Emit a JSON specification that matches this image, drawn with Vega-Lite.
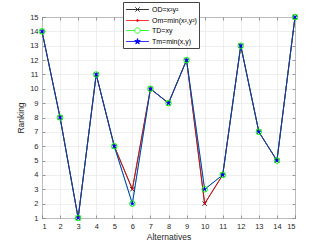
{
  "$schema": "https://vega.github.io/schema/vega-lite/v6.json",
  "width": 253,
  "height": 201,
  "autosize": {"type": "none"},
  "padding": {"left": 42, "top": 17, "right": 32, "bottom": 27},
  "config": {
    "font": "Liberation Sans",
    "view": {"stroke": "#808080", "strokeWidth": 1},
    "axis": {
      "labelFontSize": 7.5,
      "titleFontSize": 8.5,
      "titleFontWeight": "normal",
      "labelColor": "#262626",
      "titleColor": "#262626",
      "gridColor": "#e3e3e3",
      "gridWidth": 0.6,
      "domain": false,
      "ticks": true,
      "tickSize": -3,
      "tickColor": "#808080",
      "tickWidth": 0.8
    }
  },
  "data": {
    "values": [
      {"x": 1, "s": "OD=x²y²", "y": 14}, {"x": 2, "s": "OD=x²y²", "y": 8}, {"x": 3, "s": "OD=x²y²", "y": 1}, {"x": 4, "s": "OD=x²y²", "y": 11}, {"x": 5, "s": "OD=x²y²", "y": 6}, {"x": 6, "s": "OD=x²y²", "y": 3}, {"x": 7, "s": "OD=x²y²", "y": 10}, {"x": 8, "s": "OD=x²y²", "y": 9}, {"x": 9, "s": "OD=x²y²", "y": 12}, {"x": 10, "s": "OD=x²y²", "y": 2}, {"x": 11, "s": "OD=x²y²", "y": 4}, {"x": 12, "s": "OD=x²y²", "y": 13}, {"x": 13, "s": "OD=x²y²", "y": 7}, {"x": 14, "s": "OD=x²y²", "y": 5}, {"x": 15, "s": "OD=x²y²", "y": 15},
      {"x": 1, "s": "Om=min(x²,y²)", "y": 14}, {"x": 2, "s": "Om=min(x²,y²)", "y": 8}, {"x": 3, "s": "Om=min(x²,y²)", "y": 1}, {"x": 4, "s": "Om=min(x²,y²)", "y": 11}, {"x": 5, "s": "Om=min(x²,y²)", "y": 6}, {"x": 6, "s": "Om=min(x²,y²)", "y": 3}, {"x": 7, "s": "Om=min(x²,y²)", "y": 10}, {"x": 8, "s": "Om=min(x²,y²)", "y": 9}, {"x": 9, "s": "Om=min(x²,y²)", "y": 12}, {"x": 10, "s": "Om=min(x²,y²)", "y": 2}, {"x": 11, "s": "Om=min(x²,y²)", "y": 4}, {"x": 12, "s": "Om=min(x²,y²)", "y": 13}, {"x": 13, "s": "Om=min(x²,y²)", "y": 7}, {"x": 14, "s": "Om=min(x²,y²)", "y": 5}, {"x": 15, "s": "Om=min(x²,y²)", "y": 15},
      {"x": 1, "s": "TD=xy", "y": 14}, {"x": 2, "s": "TD=xy", "y": 8}, {"x": 3, "s": "TD=xy", "y": 1}, {"x": 4, "s": "TD=xy", "y": 11}, {"x": 5, "s": "TD=xy", "y": 6}, {"x": 6, "s": "TD=xy", "y": 2}, {"x": 7, "s": "TD=xy", "y": 10}, {"x": 8, "s": "TD=xy", "y": 9}, {"x": 9, "s": "TD=xy", "y": 12}, {"x": 10, "s": "TD=xy", "y": 3}, {"x": 11, "s": "TD=xy", "y": 4}, {"x": 12, "s": "TD=xy", "y": 13}, {"x": 13, "s": "TD=xy", "y": 7}, {"x": 14, "s": "TD=xy", "y": 5}, {"x": 15, "s": "TD=xy", "y": 15},
      {"x": 1, "s": "Tm=min(x,y)", "y": 14}, {"x": 2, "s": "Tm=min(x,y)", "y": 8}, {"x": 3, "s": "Tm=min(x,y)", "y": 1}, {"x": 4, "s": "Tm=min(x,y)", "y": 11}, {"x": 5, "s": "Tm=min(x,y)", "y": 6}, {"x": 6, "s": "Tm=min(x,y)", "y": 2}, {"x": 7, "s": "Tm=min(x,y)", "y": 10}, {"x": 8, "s": "Tm=min(x,y)", "y": 9}, {"x": 9, "s": "Tm=min(x,y)", "y": 12}, {"x": 10, "s": "Tm=min(x,y)", "y": 3}, {"x": 11, "s": "Tm=min(x,y)", "y": 4}, {"x": 12, "s": "Tm=min(x,y)", "y": 13}, {"x": 13, "s": "Tm=min(x,y)", "y": 7}, {"x": 14, "s": "Tm=min(x,y)", "y": 5}, {"x": 15, "s": "Tm=min(x,y)", "y": 15}
    ]
  },
  "resolve": {"axis": {"x": "independent", "y": "independent"}},
  "layer": [
    {
      "mark": {"type": "line", "strokeWidth": 0.8},
      "encoding": {
        "x": {
          "field": "x", "type": "quantitative",
          "scale": {"domain": [1, 15], "nice": false, "zero": false},
          "axis": {"orient": "bottom", "values": [1,2,3,4,5,6,7,8,9,10,11,12,13,14,15], "title": "Alternatives", "labelPadding": 7, "titlePadding": 3}
        },
        "y": {
          "field": "y", "type": "quantitative",
          "scale": {"domain": [1, 15], "nice": false, "zero": false},
          "axis": {"orient": "left", "values": [1,2,3,4,5,6,7,8,9,10,11,12,13,14,15], "title": "Ranking", "labelPadding": 7, "titlePadding": 4}
        },
        "color": {
          "field": "s", "type": "nominal",
          "scale": {"domain": ["OD=x²y²", "Om=min(x²,y²)", "TD=xy", "Tm=min(x,y)"], "range": ["#000000", "#ff0000", "#00ff00", "#0000ff"]},
          "legend": {
            "orient": "none",
            "legendX": 81,
            "legendY": -15,
            "title": null,
            "padding": 2,
            "fillColor": "white",
            "strokeColor": "#444444",
            "symbolSize": 90,
            "symbolOffset": 7,
            "labelOffset": 9,
            "rowPadding": 1,
            "labelFontSize": 7,
            "labelColor": "#000000",
            "symbolStrokeWidth": 0.8,
            "encode": {
              "symbols": {
                "update": {
                  "shape": {"signal": "datum.index === 0 ? 'M-2.4,0H2.4M-0.46,-0.46L0.46,0.46M-0.46,0.46L0.46,-0.46' : datum.index === 1 ? 'M-2.4,0H2.4M-0.2,0A0.2,0.2 0 1 1 0.2,0A0.2,0.2 0 1 1 -0.2,0' : datum.index === 2 ? 'M-2.4,0H-0.57M0.57,0H2.4M-0.57,0A0.57,0.57 0 1 1 0.57,0A0.57,0.57 0 1 1 -0.57,0' : 'M-2.4,0H2.4M0,-0.63L0.142,-0.195L0.599,-0.195L0.229,0.074L0.37,0.51L0,0.241L-0.37,0.51L-0.229,0.074L-0.599,-0.195L-0.142,-0.195Z'"},
                  "fill": {"signal": "datum.index === 1 ? '#ff0000' : datum.index === 3 ? '#0000ff' : 'transparent'"}
                }
              }
            }
          }
        }
      }
    },
    {
      "transform": [{"filter": {"field": "s", "equal": "OD=x²y²"}}],
      "mark": {"type": "point", "shape": "M-1,-1L1,1M-1,1L1,-1", "filled": false, "stroke": "#000000", "size": 20, "strokeWidth": 0.8, "opacity": 1},
      "encoding": {
        "x": {
          "field": "x", "type": "quantitative",
          "scale": {"domain": [1, 15], "nice": false, "zero": false},
          "axis": {"orient": "top", "values": [1,2,3,4,5,6,7,8,9,10,11,12,13,14,15], "labels": false, "grid": false, "title": null}
        },
        "y": {
          "field": "y", "type": "quantitative",
          "scale": {"domain": [1, 15], "nice": false, "zero": false},
          "axis": {"orient": "right", "values": [1,2,3,4,5,6,7,8,9,10,11,12,13,14,15], "labels": false, "grid": false, "title": null}
        }
      }
    },
    {
      "transform": [{"filter": {"field": "s", "equal": "Om=min(x²,y²)"}}],
      "mark": {"type": "point", "shape": "circle", "filled": true, "fill": "#ff0000", "size": 4, "opacity": 1},
      "encoding": {
        "x": {"field": "x", "type": "quantitative", "axis": null},
        "y": {"field": "y", "type": "quantitative", "axis": null}
      }
    },
    {
      "transform": [{"filter": {"field": "s", "equal": "TD=xy"}}],
      "mark": {"type": "point", "shape": "circle", "filled": false, "stroke": "#00ff00", "size": 30, "strokeWidth": 1, "opacity": 1},
      "encoding": {
        "x": {"field": "x", "type": "quantitative", "axis": null},
        "y": {"field": "y", "type": "quantitative", "axis": null}
      }
    },
    {
      "transform": [{"filter": {"field": "s", "equal": "Tm=min(x,y)"}}],
      "mark": {"type": "point", "shape": "M0,-1L0.225,-0.309L0.951,-0.309L0.363,0.118L0.588,0.809L0,0.382L-0.588,0.809L-0.363,0.118L-0.951,-0.309L-0.225,-0.309Z", "filled": true, "fill": "#0000ff", "size": 30, "strokeWidth": 0, "opacity": 1},
      "encoding": {
        "x": {"field": "x", "type": "quantitative", "axis": null},
        "y": {"field": "y", "type": "quantitative", "axis": null}
      }
    }
  ]
}
